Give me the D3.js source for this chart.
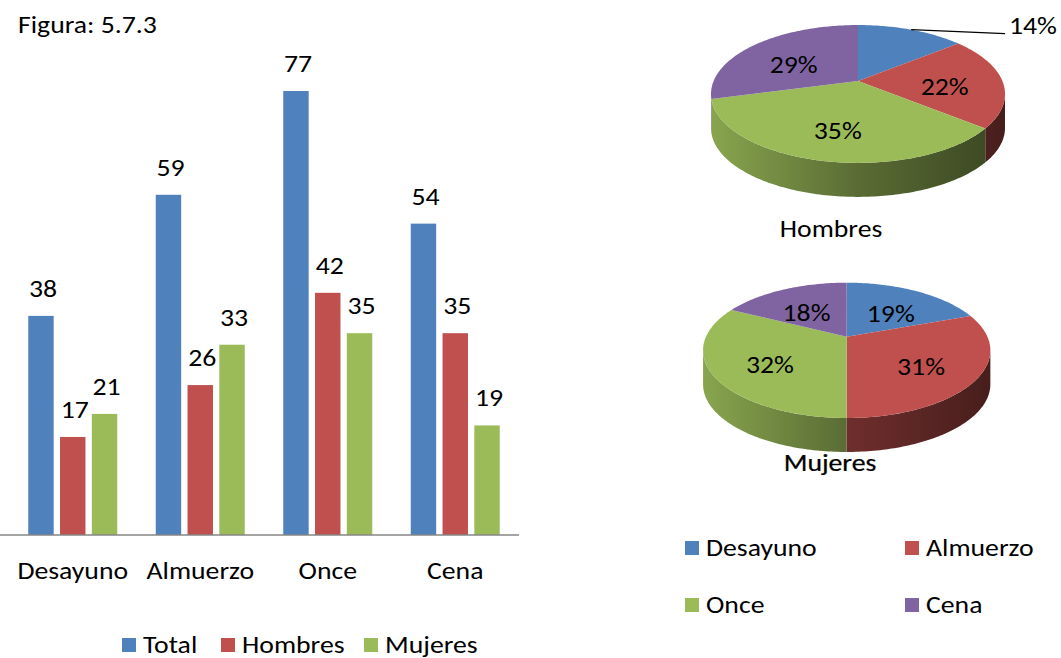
<!DOCTYPE html>
<html>
<head>
<meta charset="utf-8">
<script src="https://cdn.jsdelivr.net/npm/d3@7/dist/d3.min.js"></script>
<style>
  html, body { margin: 0; padding: 0; background: #fff; }
  svg text { font-family: Carlito, Lato, "Noto Sans", sans-serif; fill: #000; }
</style>
</head>
<body>
<svg id="chart" width="1061" height="658"></svg>
<script>
// ---- data ----
const categories = ["Desayuno", "Almuerzo", "Once", "Cena"];
const seriesNames = ["Total", "Hombres", "Mujeres"];
const totalValues = [38, 59, 77, 54];
const hombresValues = [17, 26, 42, 35];
const mujeresValues = [21, 33, 35, 19];
const seriesColors = ["#4F81BD", "#C0504D", "#9BBB59"];
const mealColors = ["#4F81BD", "#C0504D", "#9BBB59", "#8064A2"];
const titleText = "Figura: 5.7.3";

const svg = d3.select("#chart");
const FS = 23.5;   // font size
const SX = 1.18;   // horizontal text stretch

// text helper: positioned with a transform so glyphs can be widened
function addText(parent, x, y, str, anchor = "start") {
  return parent.append("text")
    .attr("transform", `translate(${x},${y}) scale(${SX},1)`)
    .attr("text-anchor", anchor)
    .attr("font-size", FS)
    .text(str);
}

// ---- title ----
addText(svg, 18, 33, titleText);

// ---- grouped bar chart ----
const baseY = 535;
const y = d3.scaleLinear().domain([0, 77]).range([baseY, 91]);
const x0 = d3.scaleBand().domain(categories).range([9, 519]).padding(0);
const bw = x0.bandwidth();
const x1 = d3.scaleBand().domain(seriesNames)
  .range([bw * 0.151, bw * 0.849]).paddingInner(0.2).paddingOuter(0);

const seriesValues = [totalValues, hombresValues, mujeresValues];
const barRows = [];
categories.forEach((c, i) => {
  seriesNames.forEach((s, j) => {
    barRows.push({ cat: c, series: s, value: seriesValues[j][i], color: seriesColors[j] });
  });
});

const bars = svg.append("g");
bars.selectAll("rect").data(barRows).join("rect")
  .attr("x", d => x0(d.cat) + x1(d.series))
  .attr("y", d => y(d.value))
  .attr("width", x1.bandwidth())
  .attr("height", d => baseY - y(d.value))
  .attr("fill", d => d.color);

barRows.forEach(d => {
  addText(bars, x0(d.cat) + x1(d.series) + x1.bandwidth() / 2 + 2, y(d.value) - 19, d.value, "middle");
});

// category axis
const xAxis = svg.append("g").attr("transform", `translate(0,${baseY})`)
  .call(d3.axisBottom(x0).tickSize(0).tickPadding(0));
xAxis.select(".domain").attr("stroke", "#868686").attr("stroke-width", 1.5)
  .attr("d", "M-1,0H519");
xAxis.selectAll(".tick text")
  .attr("font-size", FS)
  .attr("dy", 0).attr("y", 44)
  .attr("transform", `scale(${SX},1)`)
  .style("font-family", "Carlito, Lato, 'Noto Sans', sans-serif")
  .attr("fill", "#000");

// bar legend
const barLegendX = [122, 221, 364];
const bl = svg.append("g");
seriesNames.forEach((s, j) => {
  bl.append("rect").attr("x", barLegendX[j]).attr("y", 638).attr("width", 14).attr("height", 14)
    .attr("fill", seriesColors[j]);
  addText(bl, barLegendX[j] + 21, 653, s);
});

// ---- 3D pies ----
const defs = svg.append("defs");
const pieGen = d3.pie().sort(null).value(d => d.value);

function drawPie(values, geo, name, title, outsideIdx) {
  const total = d3.sum(values);
  const rows = values.map((v, i) => ({ value: v, color: mealColors[i], pct: v / total }));
  const arcs = pieGen(rows);
  const { cx, cy, R, B, k, depth, titleX, titleY } = geo;

  // perspective projection of a point on the pie disc (phi clockwise from 12 o'clock)
  const proj = (phi, f = 1, dy = 0) => {
    const s = 1 / (1 + k * f * Math.cos(phi));
    return [cx + f * R * Math.sin(phi) * s, cy - f * B * Math.cos(phi) * s + dy];
  };
  const rim = (a0, a1, f = 1, dy = 0) => {
    const n = Math.max(2, Math.ceil((a1 - a0) / (Math.PI / 180)));
    return d3.range(n + 1).map(i => proj(a0 + (a1 - a0) * i / n, f, dy));
  };
  const line = d3.line();
  const phiR = Math.acos(-k), phiL = 2 * Math.PI - phiR;
  const left = cx - R / Math.sqrt(1 - k * k), right = cx + R / Math.sqrt(1 - k * k);

  const g = svg.append("g");

  // shaded side gradients
  mealColors.forEach((c, i) => {
    const base = d3.rgb(c);
    const grad = defs.append("linearGradient").attr("id", `side-${name}-${i}`)
      .attr("gradientUnits", "userSpaceOnUse")
      .attr("x1", left).attr("x2", right).attr("y1", 0).attr("y2", 0);
    [[0, 0.88], [0.5, 0.58], [1, 0.37]].forEach(([o, m]) => {
      grad.append("stop").attr("offset", o)
        .attr("stop-color", d3.rgb(base.r * m, base.g * m, base.b * m).formatHex());
    });
  });

  // side walls (front half only)
  arcs.forEach((a, i) => {
    const s0 = Math.max(a.startAngle, phiR), s1 = Math.min(a.endAngle, phiL);
    if (s1 <= s0) return;
    const pts = rim(s0, s1).concat(rim(s0, s1, 1, depth).reverse());
    g.append("path").attr("d", line(pts) + "Z").attr("fill", `url(#side-${name}-${i})`);
  });

  // top faces
  arcs.forEach(a => {
    const pts = [[cx, cy]].concat(rim(a.startAngle, a.endAngle));
    g.append("path").attr("d", line(pts) + "Z").attr("fill", a.data.color);
  });

  // percentage labels
  arcs.forEach((a, i) => {
    const mid = (a.startAngle + a.endAngle) / 2;
    const txt = d3.format(".0%")(a.data.pct);
    if (i === outsideIdx) {
      const p0 = proj(mid, 1);
      const p1 = [right, p0[1] + 4];
      g.append("path").attr("d", line([p0, p1])).attr("stroke", "#000").attr("stroke-width", 1.2).attr("fill", "none");
      addText(g, p1[0] + 4, p1[1], txt);
    } else {
      const p = proj(mid, 0.6);
      addText(g, p[0], p[1] + 6, txt, "middle").attr("dy", "0.35em");
    }
  });

  return addText(svg, titleX, titleY, title, "middle");
}

drawPie(hombresValues,
  { cx: 858, cy: 81, R: 144.4, B: 66.5, k: 0.188, depth: 34, titleX: 831, titleY: 237 },
  "h", "Hombres", 0);
drawPie(mujeresValues,
  { cx: 846.7, cy: 336.7, R: 140.7, B: 64.9, k: 0.2016, depth: 34, titleX: 830, titleY: 471 },
  "m", "Mujeres", -1)
  .attr("stroke", "#000").attr("stroke-width", 0.25);

// pie legend
const pl = svg.append("g");
categories.forEach((m, i) => {
  const lx = i % 2 === 0 ? 685 : 905;
  const ly = i < 2 ? 541 : 598;
  pl.append("rect").attr("x", lx).attr("y", ly).attr("width", 14).attr("height", 14).attr("fill", mealColors[i]);
  addText(pl, lx + 21, ly + 15, m);
});
</script>
</body>
</html>
